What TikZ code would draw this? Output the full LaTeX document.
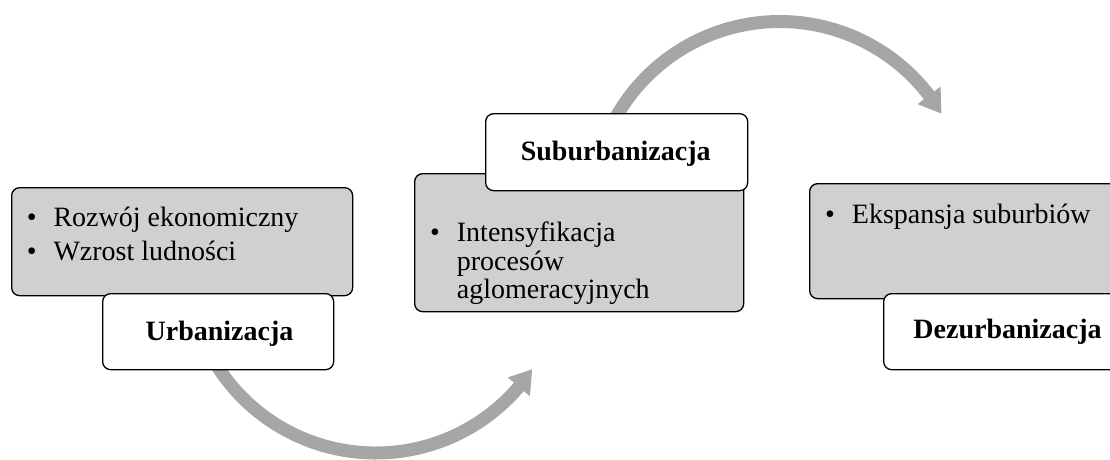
\documentclass[tikz,border=0pt]{standalone}
\usepackage{fontspec}
\setmainfont{Liberation Serif}
\usetikzlibrary{calc}
\definecolor{arrowgray}{RGB}{166,166,166}
\definecolor{boxgray}{RGB}{208,208,208}
\tikzset{
  graybox/.style={draw=black, line width=1.3pt, fill=boxgray, rounded corners=8pt, anchor=north west, inner sep=0pt},
  whitebox/.style={draw=black, line width=1.3pt, fill=white, rounded corners=8pt, anchor=north west, inner sep=0pt},
  bodytext/.style={anchor=base west, inner sep=0pt, font=\fontsize{28}{33}\selectfont},
  bullettext/.style={anchor=base, inner sep=0pt, font=\fontsize{28}{33}\selectfont},
  labeltext/.style={anchor=base, inner sep=0pt, font=\fontsize{28}{33}\selectfont\bfseries},
  shaft/.style={draw=arrowgray, line width=13pt},
  head/.style={fill=arrowgray, draw=none}
}
\begin{document}
\begin{tikzpicture}[x=1pt,y=1pt]
\useasboundingbox (0,0) rectangle (1110,-459);
\clip (0,0) rectangle (1110,-459);
% arc centres
\coordinate (c1) at (375.7,-265);
\coordinate (c2) at (779.7,-209.5);
% lower arrow
\draw[shaft] (c1) ++(-150:188) arc[start angle=-150, end angle=-40, radius=188];
\fill[head] ($(c1)+(-40.4:202.5)$) -- ($(c1)+(-33.7:188)$) -- ($(c1)+(-40.4:173.5)$) -- cycle;
% upper arrow
\draw[shaft] (c2) ++(152:188) arc[start angle=152, end angle=37, radius=188];
\fill[head] ($(c2)+(37.4:202.5)$) -- ($(c2)+(30.7:188)$) -- ($(c2)+(37.4:173.5)$) -- cycle;
% boxes
\node[graybox, minimum width=341pt, minimum height=108pt] (g1) at (11,-187) {};
\node[whitebox, minimum width=231pt, minimum height=76pt] (w1) at (102,-293) {};
\node[graybox, minimum width=329pt, minimum height=138pt] (g2) at (414,-173) {};
\node[whitebox, minimum width=262pt, minimum height=77pt] (w2) at (485,-113) {};
\node[graybox, minimum width=341pt, minimum height=115pt] (g3) at (809,-183) {};
\node[whitebox, minimum width=250pt, minimum height=76pt] (w3) at (883,-293) {};
% texts box 1
\node[bullettext] (b11) at (31.7,-226.7) {•};
\node[bodytext] (t11) at (53.3,-226.7) {Rozwój ekonomiczny};
\node[bullettext] (b12) at (31.7,-260) {•};
\node[bodytext] (t12) at (53.3,-260) {Wzrost ludności};
\node[labeltext] (l1) at (219.5,-340) {Urbanizacja};
% texts box 2
\node[bullettext] (b21) at (435,-241.7) {•};
\node[bodytext] (t21) at (456.7,-241.7) {Intensyfikacja};
\node[bodytext] (t22) at (456.7,-270) {procesów};
\node[bodytext] (t23) at (456.7,-298.3) {aglomeracyjnych};
\node[labeltext] (l2) at (615.7,-160) {Suburbanizacja};
% texts box 3
\node[bullettext] (b31) at (830,-223.3) {•};
\node[bodytext] (t31) at (851.7,-223.3) {Ekspansja suburbiów};
\node[labeltext] (l3) at (1007.5,-338.5) {Dezurbanizacja};
\end{tikzpicture}
\end{document}
